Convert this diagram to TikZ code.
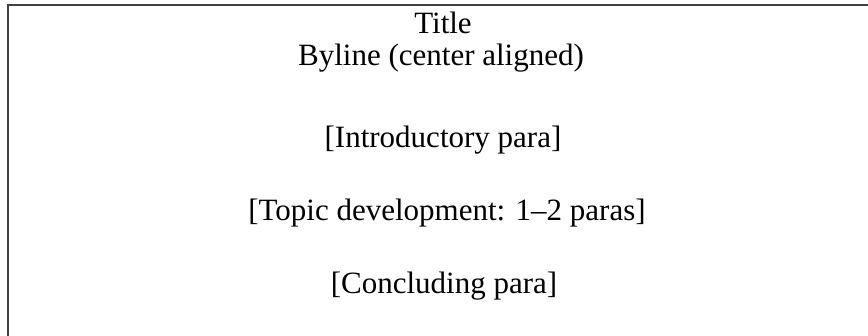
\documentclass[tikz,border=0pt]{standalone}
\usepackage{fontspec}
\setmainfont{Liberation Serif}
\definecolor{rule}{HTML}{404040}
\begin{document}
\begin{tikzpicture}[x=1pt,y=-1pt,
  txt/.style={anchor=base,inner sep=0pt,font=\fontsize{31}{32}\selectfont},
  border/.style={draw=rule,line width=2pt}]
\useasboundingbox (0,0) rectangle (868,335);
\coordinate (tr) at (869,5);
\coordinate (tl) at (8,5);
\coordinate (bl) at (8,336);
\draw[border] (tr) -- (tl) -- (bl);
\node[txt] (title) at (443,33) {Title};
\node[txt] (byline) at (441,65) {Byline (center aligned)};
\node[txt] (intro) at (443,147) {[Introductory para]};
\node[txt] (topic) at (447,220) {[Topic development: 1–2 paras]};
\node[txt] (concl) at (444,293) {[Concluding para]};
\end{tikzpicture}
\end{document}
